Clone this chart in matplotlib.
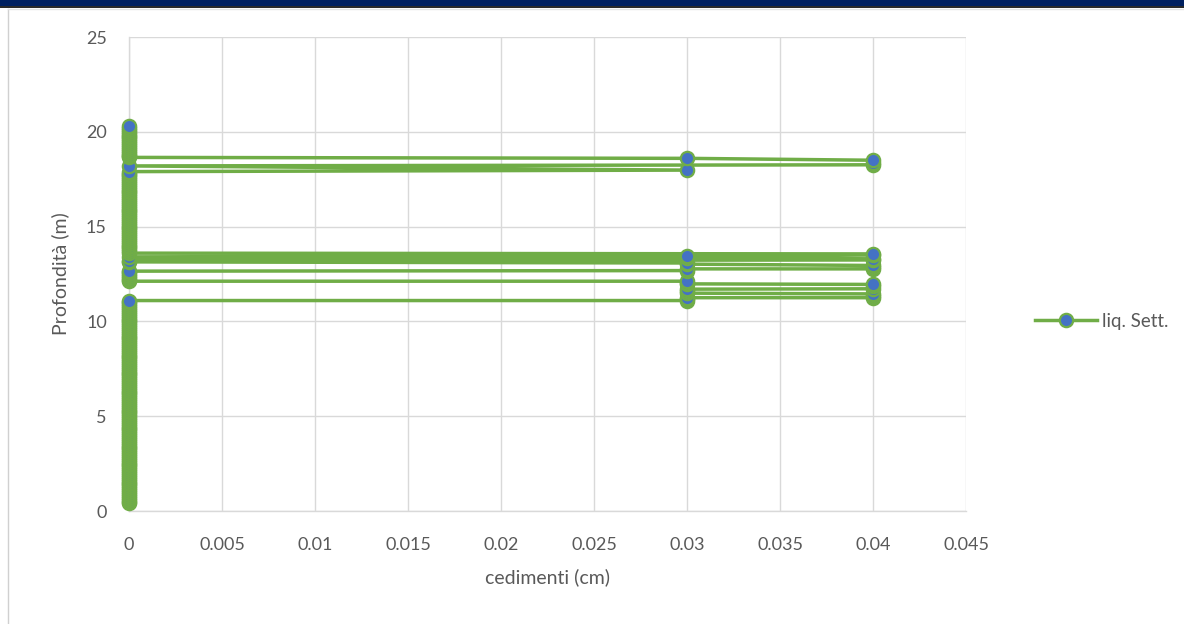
import matplotlib
matplotlib.use("Agg")
import matplotlib.pyplot as plt
from matplotlib.patches import Rectangle
from matplotlib.lines import Line2D

plt.rcParams['font.family'] = ['Lato', 'DejaVu Sans']

GREEN = '#70AD47'
BLUE = '#4472C4'
GREY_TXT = '#595959'
GRID = '#D9D9D9'

# tratto superficiale, cedimento nullo
prof_a = [0.4, 0.5, 0.6, 0.7, 0.8, 0.9,
          1.0, 1.1, 1.2, 1.3, 1.4, 1.5, 1.6, 1.7, 1.8, 1.9,
          2.0, 2.1, 2.2, 2.3, 2.4, 2.5, 2.6, 2.7, 2.8, 2.9,
          3.0, 3.1, 3.2, 3.3, 3.4, 3.5, 3.6, 3.7, 3.8, 3.9,
          4.0, 4.1, 4.2, 4.3, 4.4, 4.5, 4.6, 4.7, 4.8, 4.9,
          5.0, 5.1, 5.2, 5.3, 5.4, 5.5, 5.6, 5.7, 5.8, 5.9,
          6.0, 6.1, 6.2, 6.3, 6.4, 6.5, 6.6, 6.7, 6.8, 6.9,
          7.0, 7.1, 7.2, 7.3, 7.4, 7.5, 7.6, 7.7, 7.8, 7.9,
          8.0, 8.1, 8.2, 8.3, 8.4, 8.5, 8.6, 8.7, 8.8, 8.9,
          9.0, 9.1, 9.2, 9.3, 9.4, 9.5, 9.6, 9.7, 9.8, 9.9,
          10.0, 10.1, 10.2, 10.3, 10.4, 10.5, 10.6, 10.7, 10.8, 10.9,
          11.0, 11.1]
ced_a = [0.0] * len(prof_a)

# strati liquefacibili intermedi
prof_b = [11.1, 11.18, 11.25, 11.25, 11.32, 11.45, 11.49, 11.6, 11.7,
          11.72, 11.85, 11.95, 11.98, 12.05, 12.12,
          12.12, 12.2, 12.3, 12.4, 12.5, 12.6, 12.65,
          12.68, 12.77, 12.77, 12.85, 12.95, 13.02, 13.08,
          13.14, 13.2, 13.24, 13.3, 13.36, 13.38, 13.47, 13.5, 13.56]
ced_b = [0.03, 0.03, 0.03, 0.04, 0.04, 0.04, 0.03, 0.03, 0.03,
         0.04, 0.04, 0.04, 0.03, 0.03, 0.03,
         0.0, 0.0, 0.0, 0.0, 0.0, 0.0, 0.0,
         0.03, 0.03, 0.04, 0.04, 0.04, 0.03, 0.03,
         0.0, 0.0, 0.04, 0.04, 0.03, 0.0, 0.03, 0.04, 0.04]

prof_c = [13.6, 13.7, 13.8, 13.9,
          14.0, 14.1, 14.2, 14.3, 14.4, 14.5, 14.6, 14.7, 14.8, 14.9,
          15.0, 15.1, 15.2, 15.3, 15.4, 15.5, 15.6, 15.7, 15.8, 15.9,
          16.0, 16.1, 16.2, 16.3, 16.4, 16.5, 16.6, 16.7, 16.8, 16.9,
          17.0, 17.1, 17.2, 17.3, 17.4, 17.5, 17.6, 17.7, 17.8, 17.9]
ced_c = [0.0] * len(prof_c)

prof_d = [17.98, 18.2, 18.26, 18.38, 18.5, 18.6]
ced_d = [0.03, 0.0, 0.04, 0.04, 0.04, 0.03]

prof_e = [18.65, 18.7, 18.8, 18.9,
          19.0, 19.1, 19.2, 19.3, 19.4, 19.5, 19.6, 19.7, 19.8, 19.9,
          20.0, 20.1, 20.2, 20.3]
ced_e = [0.0] * len(prof_e)

profondita = prof_a + prof_b + prof_c + prof_d + prof_e
cedimenti = ced_a + ced_b + ced_c + ced_d + ced_e

x_ticks = [0, 0.005, 0.01, 0.015, 0.02, 0.025, 0.03, 0.035, 0.04, 0.045]
x_labels = ['0', '0.005', '0.01', '0.015', '0.02', '0.025', '0.03', '0.035', '0.04', '0.045']
y_ticks = [0, 5, 10, 15, 20, 25]

fig = plt.figure(figsize=(11.84, 6.24), dpi=100)
ax = fig.add_axes([129 / 1184, 1 - 511 / 624, 837 / 1184, 474 / 624])

ax.plot(cedimenti, profondita, color=GREEN, lw=2.5, marker='o', ms=9.6,
        mfc=BLUE, mec=GREEN, mew=1.6, clip_on=False, zorder=3,
        label='liq. Sett.')

ax.set_xlim(0, 0.045)
ax.set_ylim(0, 25)
ax.set_xticks(x_ticks)
ax.set_xticklabels(x_labels)
ax.set_yticks(y_ticks)
ax.grid(True, color=GRID, lw=1.0, zorder=0)
ax.set_axisbelow(True)
for side in ['top', 'right']:
    ax.spines[side].set_visible(False)
for side in ['left', 'bottom']:
    ax.spines[side].set_color(GRID)
    ax.spines[side].set_linewidth(1.0)
ax.tick_params(axis='both', length=0, labelcolor=GREY_TXT, labelsize=13)
ax.tick_params(axis='x', pad=19)
ax.tick_params(axis='y', pad=16)

ax.set_xlabel('cedimenti (cm)', fontsize=14, color=GREY_TXT, labelpad=11)
ax.set_ylabel('Profondità (m)', fontsize=14, color=GREY_TXT, labelpad=12)

ax.legend(loc='center left', bbox_to_anchor=(1.062, 0.40), frameon=False,
          numpoints=1, handlelength=3.3, handletextpad=0.3,
          fontsize=13.5, labelcolor=GREY_TXT)

# cornice della schermata
fig.add_artist(Rectangle((0, 1 - 6 / 624), 1, 6 / 624, transform=fig.transFigure,
                         color='#002060', lw=0))
fig.add_artist(Line2D([0, 1], [1 - 7 / 624, 1 - 7 / 624], transform=fig.transFigure,
                      color='black', lw=1.2))
fig.add_artist(Line2D([8 / 1184, 8 / 1184], [0, 1 - 9 / 624], transform=fig.transFigure,
                      color='#D0D0D0', lw=1.0))
fig.add_artist(Line2D([8 / 1184, 1], [1 - 9 / 624, 1 - 9 / 624], transform=fig.transFigure,
                      color='#E4E4E4', lw=1.0))

fig.savefig('out.png', dpi=100)
